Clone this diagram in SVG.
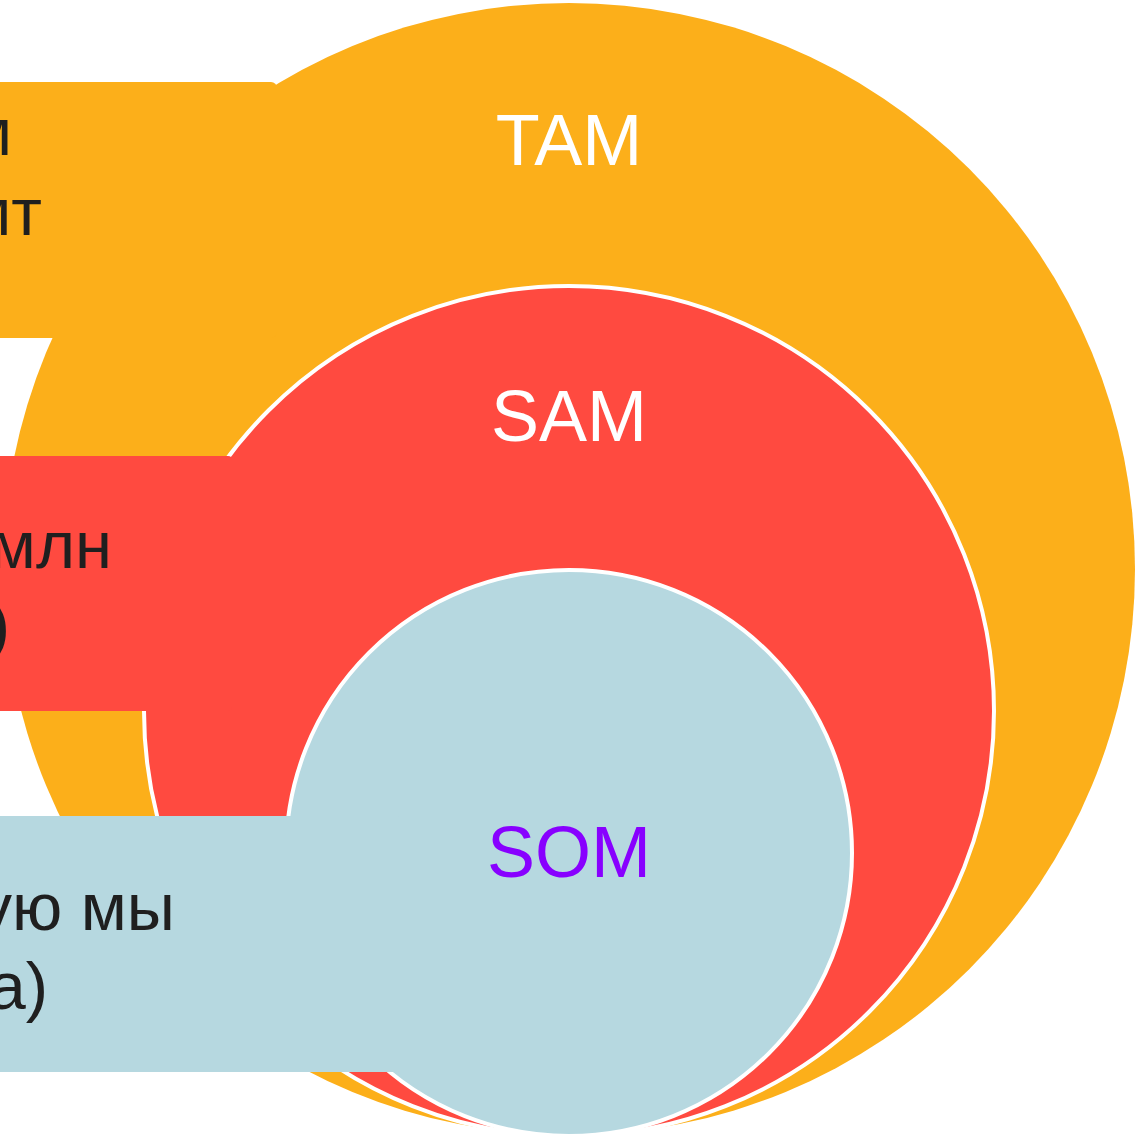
<svg xmlns="http://www.w3.org/2000/svg" width="1140" height="1139" viewBox="0 0 1140 1139">
<style>
.side{font-family:"Liberation Sans",Arial,sans-serif;font-size:67px;fill:#1f1f1f;text-anchor:end}
.lab{font-family:"Liberation Sans",Arial,sans-serif;font-size:72px;text-anchor:middle}
</style>
<rect width="1140" height="1139" fill="#ffffff"/>
<g id="tam">
<circle cx="569" cy="569" r="566" fill="#fcaf1a"/>
<rect x="-20" y="82" width="297" height="256" rx="6" fill="#fcaf1a"/>
<text class="side" x="12" y="155">м</text>
<text class="side" x="42" y="235">мт</text>
<text class="lab" x="569" y="165" fill="#ffffff">TAM</text>
</g>
<g id="sam">
<circle cx="569" cy="711" r="425" fill="#ff4a40" stroke="#ffffff" stroke-width="4"/>
<rect x="-20" y="456" width="252" height="255" rx="4" fill="#ff4a40"/>
<text class="side" x="112" y="568">млн</text>
<text class="side" x="10" y="648">)</text>
<text class="lab" x="569" y="441" fill="#ffffff">SAM</text>
</g>
<g id="som">
<circle cx="569" cy="853" r="283" fill="#b6d8e0" stroke="#ffffff" stroke-width="4"/>
<rect x="-20" y="816" width="420" height="256" rx="4" fill="#b6d8e0"/>
<text class="side" x="175" y="930">ую мы</text>
<text class="side" x="48" y="1009">а)</text>
<text class="lab" x="569" y="877" fill="#8800ff">SOM</text>
</g>
<g id="connectors"/>
</svg>
